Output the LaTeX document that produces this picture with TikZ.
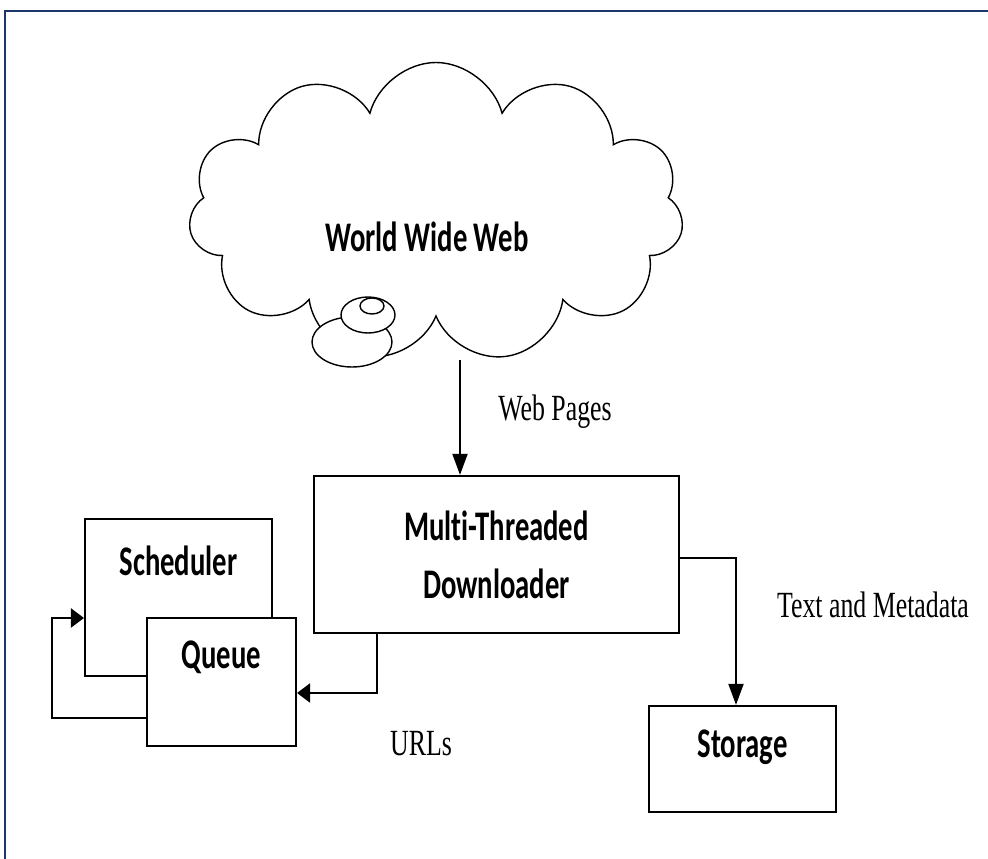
\documentclass[tikz,border=0pt]{standalone}
\usepackage{fontspec}
\usetikzlibrary{shapes.symbols,arrows.meta,positioning}
\newfontfamily\boxfont[FakeStretch=0.68,Ligatures=NoCommon]{Carlito}
\newfontfamily\lblfont[FakeStretch=0.7]{Liberation Serif}
\definecolor{frameblue}{RGB}{28,55,110}

\begin{document}
\begin{tikzpicture}[
    box/.style={draw, line width=1.2pt, fill=white, inner sep=0pt},
    boxtext/.style={font=\boxfont\bfseries\fontsize{24}{33}\selectfont, align=center, inner sep=0pt},
    lbl/.style={font=\lblfont\fontsize{21}{25}\selectfont, inner sep=0pt},
    harrow/.style={line width=1.2pt, -{Triangle[length=7.5pt,width=11pt]}},
    varrow/.style={line width=1.2pt, -{Triangle[length=12pt,width=8.5pt]}},
    bubble/.style={draw, line width=0.8pt, fill=white}
  ]
    \useasboundingbox (0,0) rectangle (19.76,-17.18);
    \draw[frameblue, line width=1.7pt] (0.1,-17.18) -- (0.1,-0.22) -- (19.76,-0.22);

    \coordinate (Web) at (8.72,-4.25);
    \coordinate (Dl) at (9.93,-11.09);
    \coordinate (Sched) at (3.57,-11.95);
    \coordinate (Queue) at (4.43,-13.64);
    \coordinate (Stor) at (14.85,-15.18);

    \coordinate (Wptop) at (9.2,-7.2);
    \coordinate (Urlturn) at (7.54,-13.86);
    \coordinate (Loopb) at (1.04,-14.36);
    \coordinate (Loopt) at (1.04,-12.36);
    \coordinate (Tmturn) at (14.72,-11.16);

    % the web
    \node[cloud, cloud puffs=11, cloud ignores aspect, draw, line width=0.8pt,
      minimum width=9.9cm, minimum height=6.0cm] (www) at (Web) {};
    \draw[bubble] (7.04,-6.84) ellipse [x radius=0.8cm, y radius=0.5cm];
    \draw[bubble] (7.36,-6.3) ellipse [x radius=0.54cm, y radius=0.36cm];
    \draw[bubble] (7.44,-6.12) ellipse [x radius=0.24cm, y radius=0.16cm];
    \node[boxtext] (wwwtxt) at ([xshift=-0.18cm,yshift=-0.49cm]www.center) {World Wide Web};

    % boxes
    \node[box, boxtext, minimum width=7.3cm, minimum height=3.14cm] (dl) at (Dl) {Multi-Threaded\\Downloader};
    \node[box, minimum width=3.74cm, minimum height=3.14cm] (sched) at (Sched) {};
    \node[boxtext] (schedtxt) at ([yshift=-0.86cm]sched.north) {Scheduler};
    \node[box, minimum width=2.98cm, minimum height=2.56cm] (queue) at (Queue) {};
    \node[boxtext] (queuetxt) at ([yshift=-0.8cm]queue.north) {Queue};
    \node[box, minimum width=3.74cm, minimum height=2.12cm] (stor) at (Stor) {};
    \node[boxtext] (stortxt) at ([yshift=-0.84cm]stor.north) {Storage};

    % arrows
    \draw[varrow] (Wptop) -- (dl.north -| Wptop);
    \draw[harrow] (dl.south -| Urlturn) -- (Urlturn) -- (Urlturn -| queue.east);
    \draw[harrow] (Loopb -| queue.west) -- (Loopb) -- (Loopt) -- (Loopt -| sched.west);
    \draw[varrow] (Tmturn -| dl.east) -- (Tmturn) -- (Tmturn |- stor.north);

    % labels
    \node[lbl] (wplbl) at (11.1,-8.24) {Web Pages};
    \node[lbl] (urllbl) at (8.42,-14.88) {URLs};
    \node[lbl] (tmlbl) at (17.46,-12.1) {Text and Metadata};
  \end{tikzpicture}
\end{document}
